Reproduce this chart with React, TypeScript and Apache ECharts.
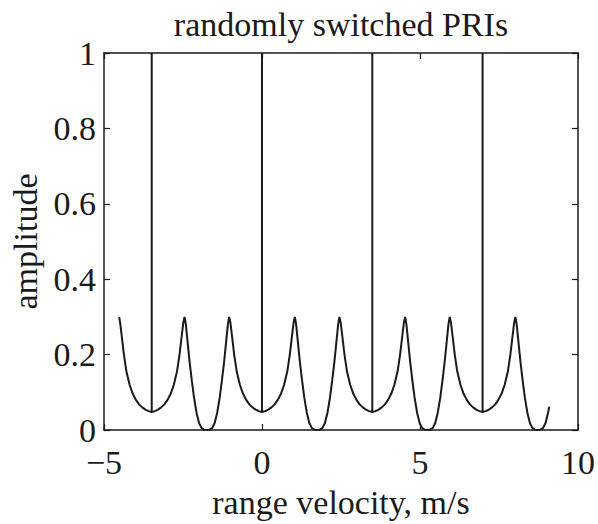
import React, { useEffect, useRef } from "react";
import * as echarts from "echarts";

const titleText = "randomly switched PRIs";
const xAxisName = "range velocity, m/s";
const yAxisName = "amplitude";

const xTicks = [-5, 0, 5, 10];
const yTicks = [0, 0.2, 0.4, 0.6, 0.8, 1];

// vertical main-lobe spikes (velocity positions), from base to top
const spikeVelocities = [-3.49, 0, 3.49, 6.98];
const spikeBase = 0.048;
const spikeTop = 1;

// sidelobe curve: [velocity, amplitude]
const curve: [number, number][] = [
  [-4.52, 0.3], [-4.49, 0.285], [-4.44, 0.25], [-4.37, 0.2], [-4.29, 0.155], [-4.19, 0.12],
  [-4.09, 0.096], [-3.99, 0.08], [-3.89, 0.068], [-3.79, 0.06], [-3.69, 0.054], [-3.59, 0.05],
  [-3.49, 0.048], [-3.39, 0.05], [-3.29, 0.054], [-3.19, 0.06], [-3.09, 0.068], [-2.99, 0.08],
  [-2.89, 0.096], [-2.79, 0.12], [-2.69, 0.155], [-2.61, 0.2], [-2.54, 0.25], [-2.49, 0.285],
  [-2.45, 0.3], [-2.41, 0.28], [-2.35, 0.23], [-2.29, 0.18], [-2.22, 0.13], [-2.15, 0.085],
  [-2.07, 0.045], [-1.99, 0.018], [-1.91, 0.005], [-1.83, 0.001], [-1.745, 0],
  [-1.66, 0.001], [-1.58, 0.005], [-1.5, 0.018], [-1.42, 0.045], [-1.34, 0.085], [-1.27, 0.13],
  [-1.2, 0.18], [-1.14, 0.23], [-1.08, 0.28], [-1.04, 0.3], [-1.0, 0.285], [-0.95, 0.25],
  [-0.88, 0.2], [-0.8, 0.155], [-0.7, 0.12], [-0.6, 0.096], [-0.5, 0.08], [-0.4, 0.068],
  [-0.3, 0.06], [-0.2, 0.054], [-0.1, 0.05], [0, 0.048], [0.1, 0.05], [0.2, 0.054],
  [0.3, 0.06], [0.4, 0.068], [0.5, 0.08], [0.6, 0.096], [0.7, 0.12], [0.8, 0.155],
  [0.88, 0.2], [0.95, 0.25], [1.0, 0.285], [1.04, 0.3], [1.08, 0.28], [1.14, 0.23],
  [1.2, 0.18], [1.27, 0.13], [1.34, 0.085], [1.42, 0.045], [1.5, 0.018], [1.58, 0.005],
  [1.66, 0.001], [1.745, 0],
  [1.83, 0.001], [1.91, 0.005], [1.99, 0.018], [2.07, 0.045], [2.15, 0.085], [2.22, 0.13],
  [2.29, 0.18], [2.35, 0.23], [2.41, 0.28], [2.45, 0.3], [2.49, 0.285], [2.54, 0.25],
  [2.61, 0.2], [2.69, 0.155], [2.79, 0.12], [2.89, 0.096], [2.99, 0.08], [3.09, 0.068],
  [3.19, 0.06], [3.29, 0.054], [3.39, 0.05], [3.49, 0.048], [3.59, 0.05], [3.69, 0.054],
  [3.79, 0.06], [3.89, 0.068], [3.99, 0.08], [4.09, 0.096], [4.19, 0.12], [4.29, 0.155],
  [4.37, 0.2], [4.44, 0.25], [4.49, 0.285], [4.53, 0.3], [4.57, 0.28], [4.63, 0.23],
  [4.69, 0.18], [4.76, 0.13], [4.83, 0.085], [4.91, 0.045], [4.99, 0.018], [5.07, 0.005],
  [5.15, 0.001], [5.235, 0],
  [5.32, 0.001], [5.4, 0.005], [5.48, 0.018], [5.56, 0.045], [5.64, 0.085], [5.71, 0.13],
  [5.78, 0.18], [5.84, 0.23], [5.9, 0.28], [5.94, 0.3], [5.98, 0.285], [6.03, 0.25],
  [6.1, 0.2], [6.18, 0.155], [6.28, 0.12], [6.38, 0.096], [6.48, 0.08], [6.58, 0.068],
  [6.68, 0.06], [6.78, 0.054], [6.88, 0.05], [6.98, 0.048], [7.08, 0.05], [7.18, 0.054],
  [7.28, 0.06], [7.38, 0.068], [7.48, 0.08], [7.58, 0.096], [7.68, 0.12], [7.78, 0.155],
  [7.86, 0.2], [7.93, 0.25], [7.98, 0.285], [8.02, 0.3], [8.06, 0.28], [8.12, 0.23],
  [8.18, 0.18], [8.25, 0.13], [8.32, 0.085], [8.4, 0.045], [8.48, 0.018], [8.56, 0.005],
  [8.64, 0.001], [8.725, 0],
  [8.81, 0.001], [8.89, 0.005], [8.97, 0.018], [9.05, 0.045], [9.09, 0.062],
];

const FONT = "'Liberation Serif', 'Times New Roman', serif";
const INK = "#1a1a1a";

export default function App() {
  const ref = useRef<HTMLDivElement>(null);

  useEffect(() => {
    if (!ref.current) return;
    const chart = echarts.init(ref.current, undefined, { renderer: "svg" });

    const axisCommon = {
      type: "value" as const,
      axisLine: { show: true, onZero: false, lineStyle: { color: INK, width: 1.5 } },
      axisTick: { show: true, inside: true, length: 6, lineStyle: { color: INK, width: 1.2 } },
      splitLine: { show: false },
    };

    const spikeSeries = spikeVelocities.map((v, i) => ({
      type: "line" as const,
      name: "spike" + i,
      xAxisIndex: 0,
      yAxisIndex: 0,
      data: [
        [v, spikeBase],
        [v, spikeTop],
      ],
      symbol: "none",
      lineStyle: { color: INK, width: 2 },
      silent: true,
      z: 3,
    }));

    chart.setOption({
      animation: false,
      backgroundColor: "#ffffff",
      graphic: [
        {
          type: "text",
          x: 341,
          y: 7,
          style: {
            text: titleText,
            font: `34px ${FONT}`,
            fill: INK,
            textAlign: "center",
            textVerticalAlign: "top",
          },
        },
      ],
      grid: { left: 101, right: 17, top: 53, bottom: 91, containLabel: false },
      xAxis: [
        {
          ...axisCommon,
          position: "bottom",
          min: xTicks[0],
          max: xTicks[xTicks.length - 1],
          interval: 5,
          name: xAxisName,
          nameLocation: "middle",
          nameGap: 55,
          nameTextStyle: { fontFamily: FONT, fontSize: 34, color: INK },
          axisLabel: {
            fontFamily: FONT,
            fontSize: 34,
            lineHeight: 26,
            color: INK,
            margin: 19,
            formatter: (v: number) => (v < 0 ? "\u2212" + Math.abs(v) : String(v)),
          },
        },
        {
          ...axisCommon,
          position: "top",
          min: xTicks[0],
          max: xTicks[xTicks.length - 1],
          interval: 5,
          axisLabel: { show: false },
        },
      ],
      yAxis: [
        {
          ...axisCommon,
          position: "left",
          min: yTicks[0],
          max: yTicks[yTicks.length - 1],
          interval: 0.2,
          name: yAxisName,
          nameLocation: "middle",
          nameRotate: 90,
          nameGap: 62,
          nameTextStyle: { fontFamily: FONT, fontSize: 34, color: INK },
          axisLabel: { fontFamily: FONT, fontSize: 34, lineHeight: 24, color: INK, margin: 8 },
        },
        {
          ...axisCommon,
          position: "right",
          min: yTicks[0],
          max: yTicks[yTicks.length - 1],
          interval: 0.2,
          axisLabel: { show: false },
        },
      ],
      series: [
        {
          type: "line",
          name: "amplitude",
          data: curve,
          symbol: "none",
          smooth: false,
          lineStyle: { color: INK, width: 2 },
          z: 4,
        },
        ...spikeSeries,
      ],
    });

    return () => chart.dispose();
  }, []);

  return (
    <div
      ref={ref}
      style={{ position: "fixed", left: 0, top: 0, width: 598, height: 524, background: "#fff" }}
    />
  );
}
